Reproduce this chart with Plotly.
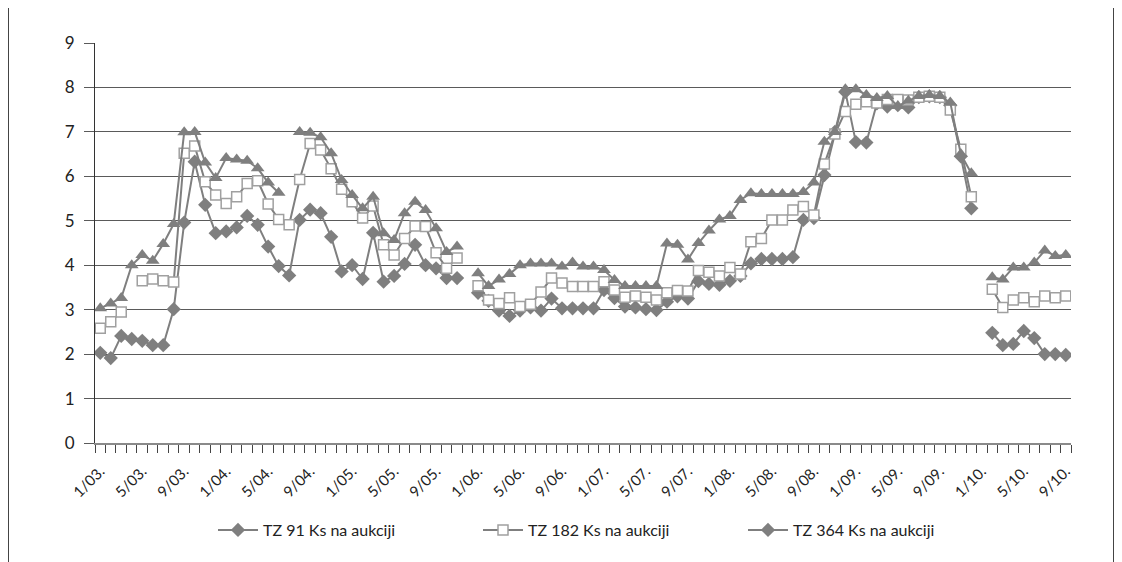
import plotly.graph_objects as go

# Monthly categories 1/03. ... 9/10.
months = [f"{m}/{y:02d}." for y in range(3, 11) for m in range(1, 13)][:93]

tz91 = [2.03, 1.91, 2.41, 2.34, 2.30, 2.20, 2.20, 3.01, 4.96, 6.33,
        5.36, 4.72, 4.76, 4.85, 5.11, 4.91, 4.42, 3.98, 3.77, 5.02,
        5.25, 5.17, 4.64, 3.86, 4.00, 3.69, 4.73, 3.63, 3.76, 4.03,
        4.46, 4.00, 3.93, 3.71, 3.71, None, 3.38, 3.20, 2.98, 2.86,
        2.98, 3.05, 2.98, 3.25, 3.03, 3.03, 3.03, 3.03, 3.44, 3.26,
        3.07, 3.05, 3.01, 2.99, 3.18, 3.30, 3.25, 3.64, 3.58, 3.56,
        3.65, 3.76, 4.04, 4.14, 4.14, 4.14, 4.18, 5.02, 5.06, 6.03,
        7.00, 7.90, 6.77, 6.76, 7.64, 7.57, 7.60, 7.55, 7.78, 7.80,
        7.78, 7.60, 6.45, 5.28, None, 2.48, 2.20, 2.23, 2.52, 2.36,
        2.00, 2.00, 1.98]

tz182 = [2.58, 2.73, 2.95, None, 3.65, 3.69, 3.65, 3.62, 6.52, 6.68,
         5.88, 5.58, 5.39, 5.54, 5.84, 5.90, 5.38, 5.03, 4.91, 5.93,
         6.74, 6.59, 6.17, 5.71, 5.43, 5.06, 5.33, 4.46, 4.23, 4.60,
         4.88, 4.87, 4.28, 3.93, 4.16, None, 3.54, 3.22, 3.14, 3.27,
         3.07, 3.12, 3.40, 3.71, 3.60, 3.52, 3.52, 3.52, 3.63, 3.44,
         3.28, 3.31, 3.28, 3.22, 3.38, 3.43, 3.42, 3.88, 3.84, 3.76,
         3.95, 3.80, 4.53, 4.60, 5.02, 5.02, 5.24, 5.32, 5.13, 6.28,
         6.95, 7.46, 7.62, 7.68, 7.65, 7.73, 7.73, 7.72, 7.78, 7.80,
         7.78, 7.49, 6.61, 5.54, None, 3.46, 3.05, 3.22, 3.27, 3.18,
         3.31, 3.27, 3.31]

tz364 = [3.03, 3.14, 3.26, 4.00, 4.23, 4.10, 4.48, 4.93, 6.99, 7.00,
         6.31, 5.96, 6.41, 6.38, 6.35, 6.18, 5.86, 5.63, None, 7.00,
         6.98, 6.88, 6.52, 5.92, 5.58, 5.28, 5.54, 4.72, 4.57, 5.17,
         5.43, 5.24, 4.83, 4.30, 4.42, None, 3.82, 3.53, 3.68, 3.80,
         4.00, 4.04, 4.04, 4.04, 3.97, 4.06, 3.97, 3.97, 3.89, 3.67,
         3.53, 3.53, 3.53, 3.53, 4.49, 4.46, 4.13, 4.50, 4.78, 5.03,
         5.11, 5.47, 5.62, 5.60, 5.60, 5.60, 5.60, 5.65, 5.86, 6.78,
         7.00, 7.96, 7.96, 7.83, 7.76, 7.81, 7.58, 7.70, 7.81, 7.83,
         7.81, 7.66, 6.50, 6.07, None, 3.73, 3.68, 3.95, 3.95, 4.06,
         4.33, 4.21, 4.23]

names = ["TZ 91 Ks na aukciji", "TZ 182 Ks na aukciji", "TZ 364 Ks na aukciji"]
x = list(range(len(months)))

GRAY = "#7f7f7f"
FONT = "Lato"

fig = go.Figure()
fig.add_trace(go.Scatter(x=x, y=tz91, name=names[0], mode="lines+markers",
                         line=dict(color=GRAY, width=2),
                         marker=dict(symbol="diamond", size=11, color=GRAY,
                                     line=dict(width=0))))
fig.add_trace(go.Scatter(x=x, y=tz182, name=names[1], mode="lines+markers",
                         line=dict(color=GRAY, width=2),
                         marker=dict(symbol="square", size=10, color="white",
                                     line=dict(color="#a0a0a0", width=1.5))))
fig.add_trace(go.Scatter(x=x, y=tz364, name=names[2], mode="lines+markers",
                         showlegend=False,
                         line=dict(color=GRAY, width=2),
                         marker=dict(symbol="triangle-up", size=12, color=GRAY,
                                     line=dict(width=0))))
# legend entry for the third series (legend shows a diamond symbol)
fig.add_trace(go.Scatter(x=[None], y=[None], name=names[2], mode="lines+markers",
                         line=dict(color=GRAY, width=2),
                         marker=dict(symbol="diamond", size=11, color=GRAY)))

# page has an 8px body margin; work in figure coordinates (page - 8)
OFF = 8
L, R, T, B = 95 - OFF, 1071 - OFF, 43 - OFF, 443 - OFF
W, H = 1122 - OFF, 562 - OFF
def px(v):
    return (v - OFF - L) / (R - L)
def py(v):
    return (B - (v - OFF)) / (B - T)

fig.update_layout(
    width=W, height=H,
    margin=dict(l=L, r=W - R, t=T, b=H - B),
    paper_bgcolor="white", plot_bgcolor="white",
    font=dict(family=FONT, size=15, color="#222"),
    showlegend=True,
    legend=dict(orientation="h", x=px(213), xanchor="left", y=py(530), yanchor="middle",
                font=dict(family=FONT, size=16, color="#222"), itemwidth=40,
                entrywidth=210, traceorder="normal"),
    xaxis=dict(range=[-0.5, len(months) - 0.5], tickmode="array",
               tickvals=x[::4], ticktext=months[::4], tickangle=-45,
               ticks="outside", ticklen=8, tickcolor="rgba(0,0,0,0)",
               ticklabelstandoff=4,
               showgrid=False, zeroline=False,
               showline=True, linecolor="#8a8a8a", linewidth=1.5,
               tickfont=dict(family=FONT, size=15, color="#222"),
               minor=dict(tickmode="linear", tick0=-0.5, dtick=1, ticks="outside",
                          ticklen=8, tickcolor="#444", tickwidth=1, showgrid=False)),
    yaxis=dict(range=[0, 9], dtick=1, showgrid=True, gridcolor="#5a5a5a", gridwidth=1,
               ticks="outside", ticklen=10, tickcolor="#5a5a5a", zeroline=False,
               ticklabelstandoff=6,
               showline=True, linecolor="#333", linewidth=1,
               tickfont=dict(family=FONT, size=17, color="#222")),
    shapes=[dict(type="path", xref="paper", yref="paper",
                 path=f"M {px(8.5)} {py(562)} L {px(8.5)} {py(7.5)} L {px(1113.5)} {py(7.5)} L {px(1113.5)} {py(562)}",
                 line=dict(color="#444", width=1))],
)

fig.write_html("out.html")
